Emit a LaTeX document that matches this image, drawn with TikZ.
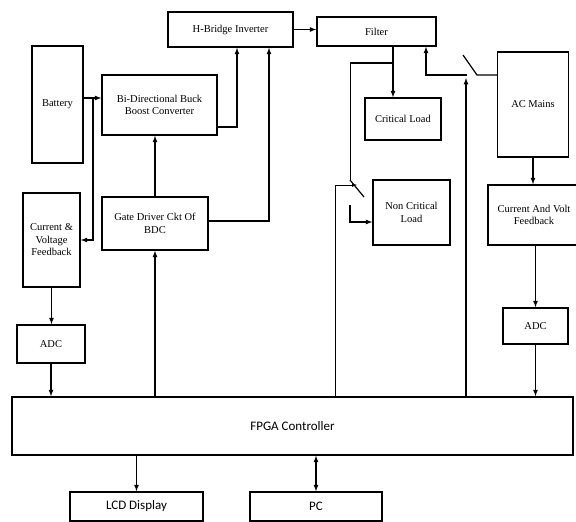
\documentclass[tikz,border=0pt]{standalone}
\usepackage{fontspec}
\setmainfont{Liberation Serif}
\newfontfamily\calibrifont{Carlito}
\usetikzlibrary{arrows,calc}
\tikzstyle{block}=[draw,line width=1.5pt,inner sep=0pt,align=center,font=\fontsize{10.5}{12.5}\selectfont]
\tikzstyle{sansblock}=[block,font=\calibrifont\fontsize{13}{15}\selectfont]
\tikzstyle{edge} = [draw,line width=1.2pt,-latex]
\tikzstyle{thin edge} = [draw,line width=0.7pt,-latex]
\tikzstyle{both edge} = [draw,line width=1.2pt,latex-latex]
\tikzstyle{wire} = [draw,line width=1.2pt]
\tikzstyle{thin wire} = [draw,line width=0.6pt]

\begin{document}
\begin{tikzpicture}[x=1pt,y=-1pt]
\useasboundingbox (0,0) rectangle (576,522);

   \foreach \pos/\name/\w/\h/\txt in {{(230.5,29.5)/hbi/125/35/H-Bridge Inverter}, {(376.5,31.5)/filter/119/29/Filter}, {(57.5,104.5)/bat/51/117/Battery}, {(159.5,105)/bdc/115/60/{Bi-Directional Buck\\ Boost Converter}}, {(403,119)/crit/76/42/Critical Load}, {(533,104.5)/acm/71/105/AC Mains}, {(51.5,240)/cvf/57/94/{Current \&\\ Voltage\\ Feedback}}, {(155,223.5)/gate/106/53/{Gate Driver Ckt Of\\ BDC}}, {(411.5,212.5)/ncl/77/65/{Non Critical\\ Load}}, {(534,215)/cavf/92/60/{Current And Volt\\ Feedback}}, {(51,344)/adcl/68/38/ADC}, {(535.5,326)/adcr/65/36/ADC}}
        \node[block,minimum width=\w pt,minimum height=\h pt] (\name) at \pos {\txt};

   \foreach \pos/\name/\w/\h/\txt in {{(292.5,426)/fpga/561/58/FPGA Controller}, {(136.5,506.5)/lcd/133/29/LCD Display}, {(316,506.5)/pc/132/29/PC}}
        \node[sansblock,minimum width=\w pt,minimum height=\h pt] (\name) at \pos {\txt};

   % bends and switch points
   \coordinate (bj) at (93,98);
   \coordinate (hb1) at (237,127);
   \coordinate (hb2) at (269,221);
   \coordinate (fj) at (393,63);
   \coordinate (s1) at (350,63);
   \coordinate (s1a) at (350,180);
   \coordinate (s1b) at (364,197);
   \coordinate (s1c) at (350,205);
   \coordinate (s1d) at (350,222);
   \coordinate (c1) at (335,185);
   \coordinate (c1t) at (357,185);
   \coordinate (s2) at (477,75);
   \coordinate (s2b) at (463,55);
   \coordinate (s2c) at (467,75);
   \coordinate (fin) at (426,75);
   \coordinate (c2) at (466,78);

    \path[edge] (bat.east |- bj) -- (bdc.west |- bj);
    \path[edge] (bj) -- (bj |- cvf.east) -- (cvf.east);
    \path[edge] (bdc.east |- hb1) -- (hb1) -- (hb1 |- hbi.south);
    \path[edge] (gate.east |- hb2) -- (hb2) -- (hb2 |- hbi.south);
    \path[edge] (gate.north) -- (gate.north |- bdc.south);
    \path[edge] (gate.south |- fpga.north) -- (gate.south);
    \path[edge] (hbi.east) -- (hbi.east -| filter.west);
    \path[edge] (fj |- filter.south) -- (fj |- crit.north);
    \path[wire] (fj) -- (s1);
    \path[thin wire] (s1) -- (s1a);
    \path[wire] (s1a) -- (s1b);
    \path[edge] (s1c) -- (s1d) -- (s1d -| ncl.west);
    \path[thin edge] (c1 |- fpga.north) -- (c1) -- (c1t);
    \path[wire] (acm.west |- s2) -- (s2) -- (s2b);
    \path[edge] (s2c) -- (fin) -- (fin |- filter.south);
    \path[edge] (c2 |- fpga.north) -- (c2);
    \path[edge] (acm.south) -- (acm.south |- cavf.north);
    \path[edge] (adcr.north |- cavf.south) -- (adcr.north);
    \path[edge] (adcr.south) -- (adcr.south |- fpga.north);
    \path[edge] (cvf.south) -- (cvf.south |- adcl.north);
    \path[edge] (adcl.south) -- (adcl.south |- fpga.north);
    \path[edge] (lcd.north |- fpga.south) -- (lcd.north);
    \path[both edge] (pc.north |- fpga.south) -- (pc.north);

\end{tikzpicture}
\end{document}
